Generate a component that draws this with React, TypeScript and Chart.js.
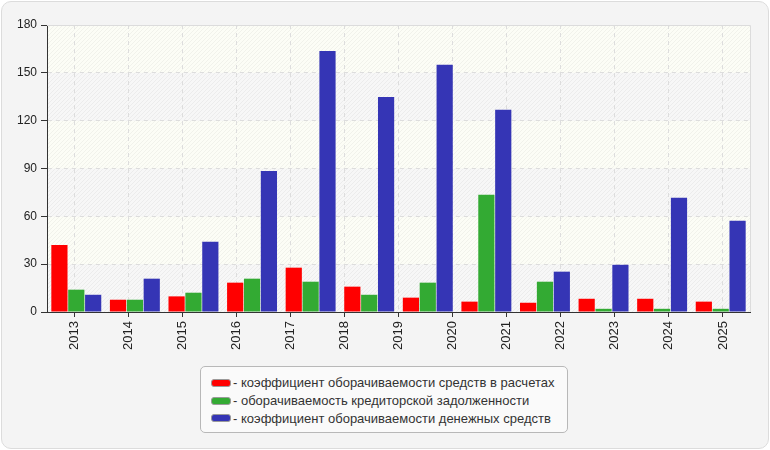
import React, { useEffect, useRef } from "react";
import { Chart, registerables } from "chart.js";

Chart.register(...registerables);

const yearLabels = ["2013", "2014", "2015", "2016", "2017", "2018", "2019", "2020", "2021", "2022", "2023", "2024", "2025"];
const periods = ["1", "2", "3", "4", "5", "6", "7", "8", "9", "10", "11", "12"];
const settlementsTurnover = [42, 7.7, 9.8, 18.4, 27.8, 15.9, 9, 6.5, 5.8, 8.3, 8.3, 6.5];
const payablesTurnover = [14, 7.7, 12.1, 20.9, 19, 10.8, 18.4, 73.5, 19, 2, 2, 2];
const cashTurnover = [10.8, 20.9, 44, 88.5, 163.7, 134.9, 155, 126.8, 25.3, 29.6, 71.6, 57.2];
const seriesNames = [
  "- коэффициент оборачиваемости средств в расчетах",
  "- оборачиваемость кредиторской задолженности",
  "- коэффициент оборачиваемости денежных средств",
];
const seriesColors = ["#ff0000", "#33aa33", "#3535b5"];

const FONT = "'Liberation Sans', Arial, sans-serif";

function makeHatch(ctx: CanvasRenderingContext2D, bg: string) {
  const c = document.createElement("canvas");
  c.width = 4;
  c.height = 4;
  const g = c.getContext("2d")!;
  g.fillStyle = bg;
  g.fillRect(0, 0, 4, 4);
  g.strokeStyle = "rgba(0,0,0,0.045)";
  g.lineWidth = 1;
  g.beginPath();
  g.moveTo(-1, 5);
  g.lineTo(5, -1);
  g.moveTo(-3, 3);
  g.lineTo(3, -3);
  g.moveTo(1, 7);
  g.lineTo(7, 1);
  g.stroke();
  return ctx.createPattern(c, "repeat");
}

const bandsPlugin = {
  id: "bands",
  beforeDraw(chart: any) {
    const { ctx, chartArea, scales } = chart;
    const y = scales.y;
    const ticks = y.ticks;
    const pCream = makeHatch(ctx, "#fcfdf6");
    const pGrey = makeHatch(ctx, "#f7f7f7");
    ctx.save();
    for (let i = 0; i < ticks.length - 1; i++) {
      const yb = y.getPixelForValue(ticks[i].value);
      const yt = y.getPixelForValue(ticks[i + 1].value);
      ctx.fillStyle = (i % 2 === 0 ? pGrey : pCream) as any;
      ctx.fillRect(chartArea.left, yt, chartArea.right - chartArea.left, yb - yt);
    }
    ctx.restore();
  },
  afterDraw(chart: any) {
    const { ctx, chartArea } = chart;
    ctx.save();
    ctx.strokeStyle = "#dcdcdc";
    ctx.lineWidth = 1;
    ctx.beginPath();
    ctx.moveTo(chartArea.left, Math.round(chartArea.top) + 0.5);
    ctx.lineTo(Math.round(chartArea.right) + 0.5, Math.round(chartArea.top) + 0.5);
    ctx.lineTo(Math.round(chartArea.right) + 0.5, chartArea.bottom);
    ctx.stroke();
    ctx.restore();
  },
};

function BarChart() {
  const ref = useRef<HTMLCanvasElement>(null);
  useEffect(() => {
    const values = [settlementsTurnover, payablesTurnover, cashTurnover];
    const chart = new Chart(ref.current!, {
      type: "bar",
      data: {
        labels: periods,
        datasets: values.map((d, i) => ({
          label: seriesNames[i],
          data: d,
          backgroundColor: seriesColors[i],
          borderWidth: 0,
          xAxisID: "xb",
          categoryPercentage: 0.864,
          barPercentage: 0.96,
        })),
      },
      options: {
        animation: false,
        responsive: false,
        devicePixelRatio: 1,
        layout: { padding: { top: 25, right: 20, left: 0, bottom: 0 } },
        plugins: { legend: { display: false }, tooltip: { enabled: false } },
        scales: {
          x: {
            type: "category",
            labels: yearLabels,
            offset: true,
            position: "bottom",
            grid: { offset: false, color: "#dddddd", tickColor: "#333333", tickLength: 5 },
            border: { color: "#333333", dash: [4, 4] },
            ticks: {
              maxRotation: 90,
              minRotation: 90,
              autoSkip: false,
              padding: 4,
              color: "#222222",
              font: { family: FONT, size: 13 },
            },
            afterFit: (s: any) => {
              s.height = 138;
            },
          },
          xb: {
            type: "category",
            axis: "x",
            labels: periods,
            offset: true,
            display: false,
            grid: { display: false },
          },
          y: {
            min: 0,
            max: 180,
            grid: { color: "#dddddd", tickColor: "#333333", tickLength: 6 },
            border: { color: "#333333", dash: [4, 4] },
            ticks: {
              stepSize: 30,
              padding: 4,
              color: "#222222",
              font: { family: FONT, size: 12 },
            },
            afterFit: (s: any) => {
              s.width = 47;
            },
          },
        },
      } as any,
      plugins: [bandsPlugin],
    });
    return () => chart.destroy();
  }, []);
  return <canvas ref={ref} width={770} height={450} style={{ position: "absolute", left: 0, top: 0 }} />;
}

export default function App() {
  return (
    <div style={{ position: "fixed", left: 0, top: 0, width: 770, height: 450, overflow: "hidden", fontFamily: FONT }}>
      <div
        style={{
          position: "absolute",
          left: 1,
          top: 1,
          width: 766,
          height: 446,
          border: "1px solid #dcdcdc",
          borderRadius: 10,
          background: "#f4f4f4",
        }}
      />
      <BarChart />
      <div
        style={{
          position: "absolute",
          left: 200,
          top: 366,
          width: 366,
          height: 65,
          border: "1px solid #b8b8b8",
          borderRadius: 5,
          background: "#fafafa",
        }}
      >
        {seriesNames.map((name, i) => (
          <div
            key={i}
            style={{
              position: "absolute",
              left: 10,
              top: 7 + i * 17.7,
              height: 17.7,
              display: "flex",
              alignItems: "center",
              whiteSpace: "nowrap",
              fontSize: 13,
              color: "#333333",
            }}
          >
            <span
              style={{
                display: "inline-block",
                width: 18,
                height: 6,
                background: seriesColors[i],
                border: "1px solid #9a9a9a",
                borderRadius: 3,
                marginRight: 2,
              }}
            />
            <span>{name}</span>
          </div>
        ))}
      </div>
    </div>
  );
}
